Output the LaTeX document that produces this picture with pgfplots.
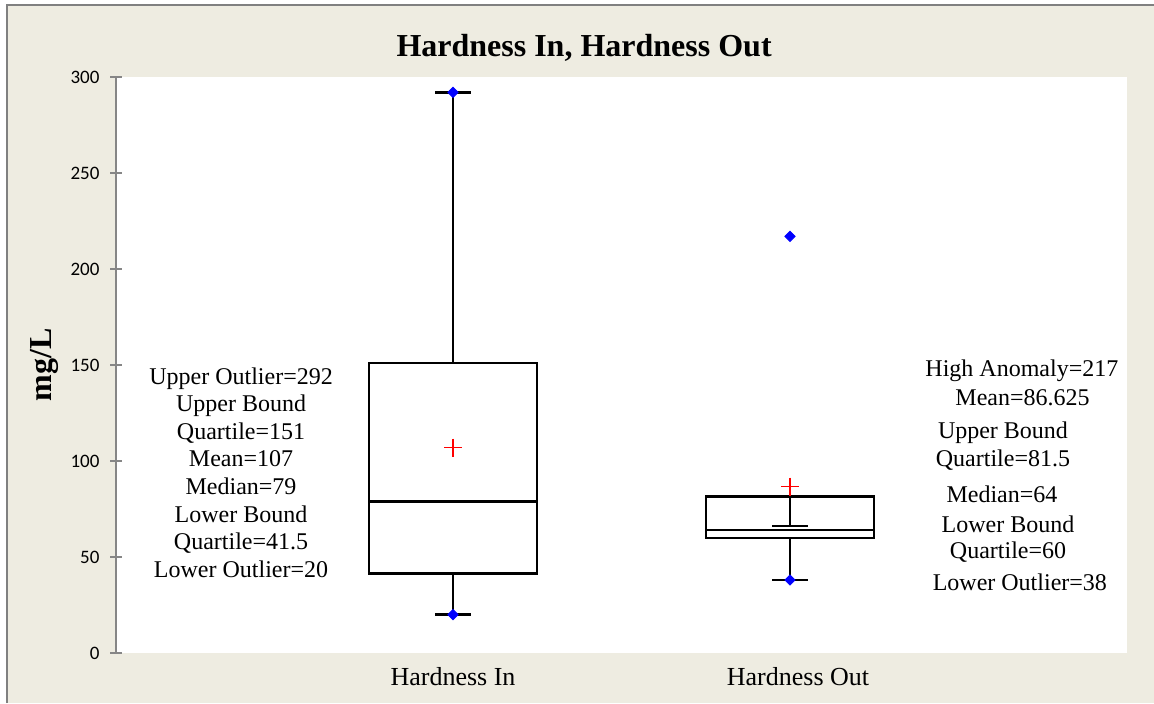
\documentclass[border=0pt]{standalone}
\usepackage{pgfplots}
\pgfplotsset{compat=1.18}
\usepackage{fontspec}
\setmainfont{Liberation Serif}
\newfontfamily\calibri{Carlito}
\definecolor{chartbg}{HTML}{EEECE1}
\definecolor{axisgray}{HTML}{868686}

\begin{document}
\begin{tikzpicture}
  % page background and frame (1px = 0.5pt)
  \fill[white] (0,0) rectangle (577pt,351.5pt);
  \fill[chartbg] (3.5pt,0) rectangle (577pt,349pt);
  \draw[gray, line width=0.75pt] (3.5pt,0) -- (3.5pt,349pt) -- (577pt,349pt);

  \begin{axis}[
      at={(58pt,25pt)}, anchor=south west,
      scale only axis, width=505.5pt, height=288pt,
      axis background/.style={fill=white},
      xmin=0, xmax=3, ymin=0, ymax=300,
      axis x line*=bottom, axis y line*=left,
      x axis line style={draw=none},
      y axis line style={draw=axisgray, line width=1pt, -},
      xtick={1,2}, xticklabels={Hardness In,{\hspace*{8pt}Hardness Out}},
      xtick style={draw=none},
      ytick={0,50,...,300},
      ytick style={draw=axisgray, line width=1pt},
      tick align=center, major tick length=5.5pt,
      /pgf/number format/assume math mode=true,
      yticklabel style={font=\calibri\fontsize{9.5}{10}\selectfont, xshift=-2pt},
      xticklabel style={font=\fontsize{13}{15}\selectfont, yshift=-1pt},
      title={\textbf{Hardness In, Hardness Out}},
      title style={font=\fontsize{16}{18}\selectfont, at={(rel axis cs:0.463,1)}, anchor=center, yshift=8.5pt},
      ylabel={\textbf{mg/L}},
      ylabel style={font=\fontsize{16}{18}\selectfont, at={(rel axis cs:-0.0712,0.5)}, anchor=center},
      clip=false,
      boxline/.style={black, line width=1.2pt, no marks},
    ]
    % Hardness In: box 41.5-151, median 79, whiskers 20 and 292
    \addplot[boxline, line cap=rect] coordinates {(0.75,41.5) (1.25,41.5) (1.25,151) (0.75,151) (0.75,41.5)};
    \addplot[boxline] coordinates {(0.75,79) (1.25,79)};
    \addplot[boxline] coordinates {(1,151) (1,292)};
    \addplot[boxline] coordinates {(0.9475,292) (1.0525,292)};
    \addplot[boxline] coordinates {(1,41.5) (1,20)};
    \addplot[boxline] coordinates {(0.9475,20) (1.0525,20)};
    % Hardness Out: box 60-81.5, median 64, whiskers 38 and 66
    \addplot[boxline, line cap=rect] coordinates {(1.75,60) (2.25,60) (2.25,81.5) (1.75,81.5) (1.75,60)};
    \addplot[boxline] coordinates {(1.75,64) (2.25,64)};
    \addplot[boxline] coordinates {(2,81.5) (2,66)};
    \addplot[boxline] coordinates {(1.9475,66) (2.0525,66)};
    \addplot[boxline] coordinates {(2,60) (2,38)};
    \addplot[boxline] coordinates {(1.9475,38) (2.0525,38)};
    % means
    \addplot[only marks, mark=+, red, mark size=4.5pt, mark options={line width=0.8pt}]
      coordinates {(1,107) (2,86.625)};
    % outliers
    \addplot[only marks, mark=square*, blue, mark size=1.8pt, mark options={rotate=45, fill=blue, draw=blue}]
      coordinates {(1,20) (1,292) (2,217) (2,38)};

    % annotations
    \node[align=center, font=\fontsize{12}{13.8}\selectfont] at (axis cs:0.371,94)
      {Upper Outlier=292\\Upper Bound\\Quartile=151\\Mean=107\\Median=79\\Lower Bound\\Quartile=41.5\\Lower Outlier=20};
    \begin{scope}[every node/.style={font=\fontsize{12}{13.8}\selectfont}]
      \node at (axis cs:2.688,146.9) {High Anomaly=217};
      \node at (axis cs:2.690,132.8) {Mean=86.625};
      \node at (axis cs:2.632,114.6) {Upper Bound};
      \node at (axis cs:2.632,100.5) {Quartile=81.5};
      \node at (axis cs:2.629,82.8) {Median=64};
      \node at (axis cs:2.647,67.2) {Lower Bound};
      \node at (axis cs:2.647,52.5) {Quartile=60};
      \node at (axis cs:2.682,37.0) {Lower Outlier=38};
    \end{scope}
  \end{axis}
  \pgfresetboundingbox
  \useasboundingbox (0,0) rectangle (577pt,351.5pt);
\end{tikzpicture}
\end{document}
